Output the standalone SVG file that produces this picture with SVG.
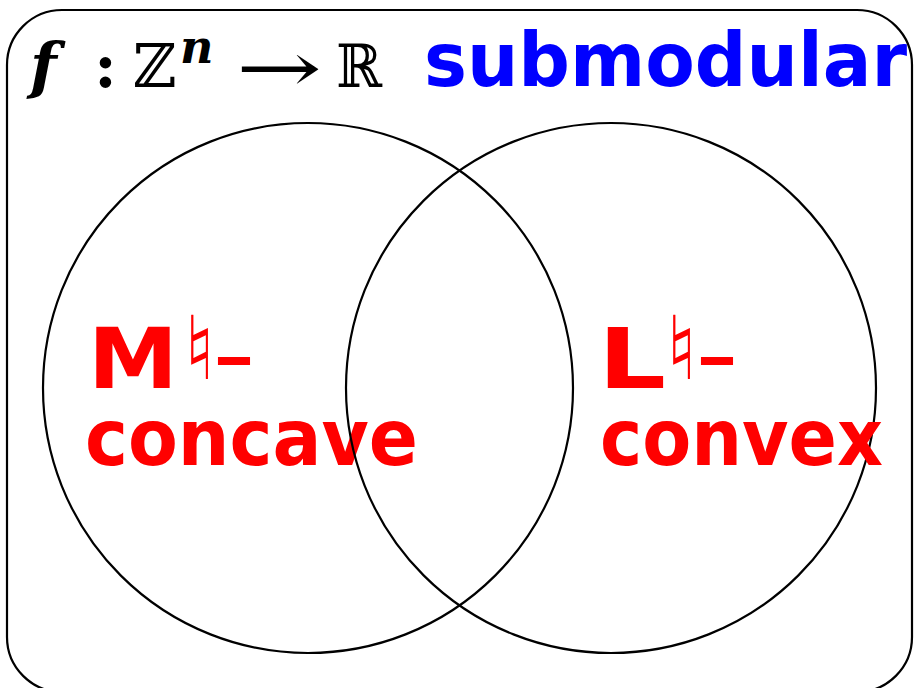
<svg xmlns="http://www.w3.org/2000/svg" width="915" height="688" viewBox="0 0 915 688">
<style>
.ln{fill:none;stroke:#000;stroke-width:2.2}
.red{fill:#ff0000;font-family:"DejaVu Sans",sans-serif;font-weight:bold}
.nat{fill:#ff0000;font-family:"DejaVu Sans",sans-serif;font-weight:normal}
.math{font-family:"DejaVu Serif","Liberation Serif",serif;fill:#000}
</style>
<rect width="915" height="688" fill="#fff"/>
<g id="frame">
<rect class="ln" x="7" y="10" width="905" height="682" rx="55" ry="55"/>
</g>
<g id="title">
<text class="math" x="30" y="87" font-size="62" font-weight="bold" font-style="italic">f</text>
<text class="math" x="94" y="87" font-size="62" font-weight="bold">:</text>
<text class="math" x="133" y="87" font-size="60" textLength="44" lengthAdjust="spacingAndGlyphs">ℤ</text>
<text class="math" x="180" y="63" font-size="46" font-weight="bold" font-style="italic">n</text>
<text class="math" x="236" y="92" font-size="70" font-family="DejaVu Sans,sans-serif" textLength="86" lengthAdjust="spacingAndGlyphs">→</text>
<text class="math" x="336" y="87" font-size="60" textLength="46" lengthAdjust="spacingAndGlyphs">ℝ</text>
<text x="424" y="86" font-family="DejaVu Sans,sans-serif" font-weight="bold" font-size="74" fill="#0000ff" textLength="483" lengthAdjust="spacingAndGlyphs">submodular</text>
</g>
<g id="m-concave">
<circle class="ln" cx="308" cy="388" r="265"/>
<text class="red" x="88" y="388" font-size="84" textLength="90" lengthAdjust="spacingAndGlyphs">M</text>
<text class="nat" x="184" y="379" font-size="88">♮</text>
<text class="nat" x="212" y="388" font-size="100" textLength="44" lengthAdjust="spacingAndGlyphs">-</text>
<text class="red" x="85" y="465" font-size="78" textLength="333" lengthAdjust="spacingAndGlyphs">concave</text>
</g>
<g id="l-convex">
<circle class="ln" cx="611" cy="388" r="265"/>
<text class="red" x="598" y="388" font-size="84" textLength="68" lengthAdjust="spacingAndGlyphs">L</text>
<text class="nat" x="666" y="379" font-size="88">♮</text>
<text class="nat" x="695" y="388" font-size="100" textLength="44" lengthAdjust="spacingAndGlyphs">-</text>
<text class="red" x="600" y="465" font-size="78" textLength="283" lengthAdjust="spacingAndGlyphs">convex</text>
</g>
<g id="connectors"></g>
</svg>
